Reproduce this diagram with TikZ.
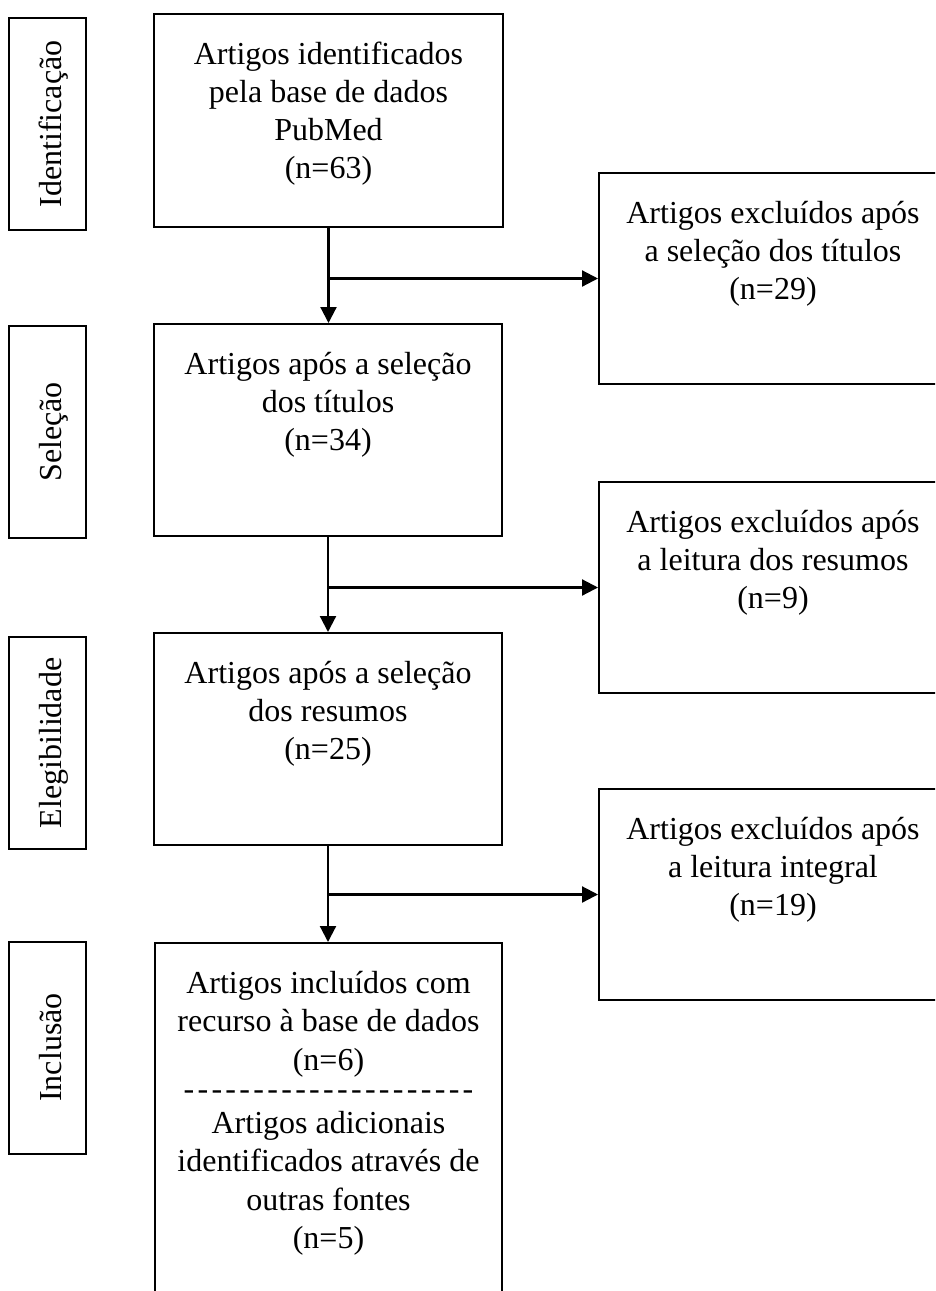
\documentclass[tikz,border=0pt]{standalone}
\usepackage{fontspec}
\setmainfont{Liberation Serif}
\usetikzlibrary{arrows.meta}
\newcommand{\dashrow}{-\kern3.3pt-\kern3.3pt-\kern3.3pt-\kern3.3pt-\kern3.3pt-\kern3.3pt-\kern3.3pt-\kern3.3pt-\kern3.3pt-\kern3.3pt-\kern3.3pt-\kern3.3pt-\kern3.3pt-\kern3.3pt-\kern3.3pt-\kern3.3pt-\kern3.3pt-\kern3.3pt-\kern3.3pt-\kern3.3pt-}
\newcommand{\boxtxt}[3]{\parbox[t][#2][t]{#1}{\centering\rule{0pt}{50pt}#3}}
\begin{document}
\begin{tikzpicture}[x=1pt,y=-1pt,
  font=\fontsize{32}{38}\selectfont,
  flowbox/.style={draw, line width=2pt, inner sep=0pt, anchor=north west},
  sidebox/.style={draw, line width=2pt, inner sep=0pt, rotate=90,
    minimum width=212pt, minimum height=77pt, text height=27pt, text depth=0pt},
  arr/.style={line width=2.2pt, -{Triangle[length=16pt,width=16pt]}}]
\useasboundingbox (0,0) rectangle (935,1291);
\clip (0,0) rectangle (935,1291);
\fill[white] (0,0) rectangle (935,1291);
% side labels
\node[sidebox] (s1) at (47.5,124) {Identificação};
\node[sidebox] (s2) at (47.5,432) {Seleção};
\node[sidebox] (s3) at (47.5,743) {Elegibilidade};
\node[sidebox] (s4) at (47.5,1047.5) {Inclusão};
% main column
\node[flowbox] (b1) at (153,13) {\boxtxt{349pt}{213pt}{Artigos identificados\\pela base de dados\\PubMed\\(n=63)}};
\node[flowbox] (b2) at (153,323) {\boxtxt{348pt}{212pt}{Artigos após a seleção\\dos títulos\\(n=34)}};
\node[flowbox] (b3) at (153,632) {\boxtxt{348pt}{212pt}{Artigos após a seleção\\dos resumos\\(n=25)}};
\node[flowbox] (b4) at (154,942) {\boxtxt{347pt}{400pt}{\setlength{\baselineskip}{38.5pt}Artigos incluídos com\\recurso à base de dados\\(n=6)\\[-9.5pt]\dashrow\\[-4.5pt]Artigos adicionais\\identificados através de\\outras fontes\\(n=5)}};
% right column
\node[flowbox] (r1) at (598,172) {\boxtxt{348pt}{211pt}{Artigos excluídos após\\a seleção dos títulos\\(n=29)}};
\node[flowbox] (r2) at (598,481) {\boxtxt{348pt}{211pt}{Artigos excluídos após\\a leitura dos resumos\\(n=9)}};
\node[flowbox] (r3) at (598,788) {\boxtxt{348pt}{211pt}{Artigos excluídos após\\a leitura integral\\(n=19)}};
% connectors
\draw[arr] (b1.south) -- (b1.south |- b2.north);
\draw[arr] (b1.south |- r1.west) -- (r1.west);
\draw[arr] (b2.south) -- (b2.south |- b3.north);
\draw[arr] (b2.south |- r2.west) -- (r2.west);
\draw[arr] (b3.south) -- (b3.south |- b4.north);
\draw[arr] (b3.south |- r3.west) -- (r3.west);
\end{tikzpicture}
\end{document}
